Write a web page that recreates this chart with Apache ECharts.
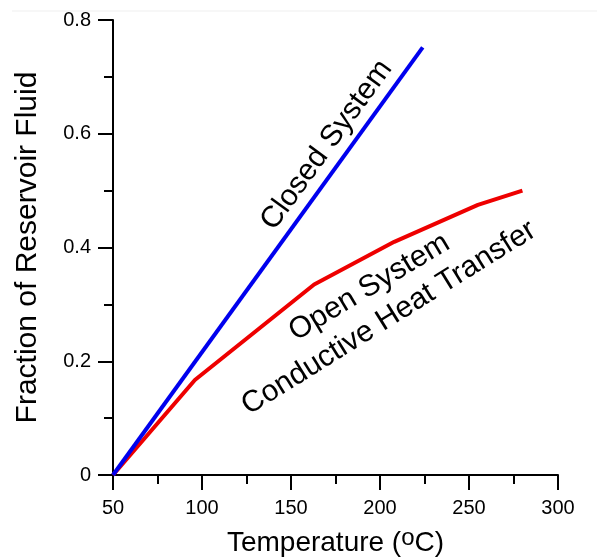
<!DOCTYPE html>
<html>
<head>
<meta charset="utf-8">
<script src="https://cdn.jsdelivr.net/npm/echarts@6/dist/echarts.min.js"></script>
<style>
  html, body { margin: 0; padding: 0; background: #fff; }
  #chart { width: 597px; height: 558px; }
</style>
</head>
<body>
<div id="chart"></div>
<script>
// Temperature (°C) vs. fraction of reservoir fluid
var closedTemp  = [50, 224];
var closedFrac  = [0, 0.752];

var openTemp    = [50, 96, 163, 208, 255, 280];
var openFrac    = [0, 0.167, 0.335, 0.41, 0.475, 0.5];

var xTicks = [50, 100, 150, 200, 250, 300];
var yTicks = [0, 0.2, 0.4, 0.6, 0.8];

// Annotation anchors in data units [temperature, fraction]
var closedLabelAt = [170, 0.58];
var openLabelAt   = [194, 0.33];
var condLabelAt   = [205, 0.276];

var FONT = '"Liberation Sans", Arial, Helvetica, sans-serif';

function pairs(xs, ys) {
  return xs.map(function (x, i) { return [x, ys[i]]; });
}

var chart = echarts.init(document.getElementById('chart'), null, { renderer: 'canvas' });

var axisCommon = {
  axisLine: { show: true, onZero: false, lineStyle: { color: '#000', width: 2 } },
  axisTick: { show: true, inside: false, length: 15, lineStyle: { color: '#000', width: 2 } },
  minorTick: { show: true, splitNumber: 2, length: 9, lineStyle: { color: '#000', width: 2 } },
  splitLine: { show: false },
  minorSplitLine: { show: false },
  axisLabel: { color: '#000', fontSize: 20, fontFamily: FONT }
};

chart.setOption({
  animation: false,
  backgroundColor: '#fff',
  grid: { left: 113, right: 39, top: 20, bottom: 83, containLabel: false, outerBoundsMode: 'none' },
  xAxis: Object.assign({}, axisCommon, {
    type: 'value',
    min: xTicks[0],
    max: xTicks[xTicks.length - 1],
    interval: 50,
    name: 'Temperature ({sup|o}C)',
    nameLocation: 'middle',
    nameGap: 51,
    nameTextStyle: {
      color: '#000', fontSize: 28, fontFamily: FONT, verticalAlign: 'top', lineHeight: 34,
      rich: { sup: { fontSize: 24, fontFamily: FONT, color: '#000', lineHeight: 24, padding: [0, 0, 9, 0] } }
    },
    axisLabel: Object.assign({}, axisCommon.axisLabel, { margin: 23 })
  }),
  yAxis: Object.assign({}, axisCommon, {
    type: 'value',
    min: yTicks[0],
    max: yTicks[yTicks.length - 1],
    interval: 0.2,
    name: 'Fraction of Reservoir Fluid',
    nameLocation: 'middle',
    nameGap: 70,
    nameTextStyle: { color: '#000', fontSize: 30, fontFamily: FONT },
    axisLabel: Object.assign({}, axisCommon.axisLabel, { margin: 22 })
  }),
  series: [
    {
      name: 'Closed System',
      type: 'line',
      data: pairs(closedTemp, closedFrac),
      showSymbol: false,
      lineStyle: { color: '#0000ee', width: 4 },
      z: 3
    },
    {
      name: 'Open System',
      type: 'line',
      data: pairs(openTemp, openFrac),
      showSymbol: false,
      lineStyle: { color: '#ee0000', width: 4 },
      z: 2
    }
  ]
});

function labelAt(pt, text, angleDeg) {
  var p = chart.convertToPixel({ gridIndex: 0 }, pt);
  return {
    type: 'text',
    x: p[0],
    y: p[1],
    rotation: angleDeg * Math.PI / 180,
    style: {
      text: text,
      fill: '#000',
      font: '30px ' + FONT,
      align: 'center',
      verticalAlign: 'middle'
    },
    z: 10
  };
}

chart.setOption({
  graphic: [
    {
      type: 'line',
      shape: { x1: 12, y1: 11, x2: 597, y2: 11 },
      style: { stroke: '#efefef', lineWidth: 1 },
      silent: true
    },
    labelAt(closedLabelAt, 'Closed System', 54),
    labelAt(openLabelAt, 'Open System', 31),
    labelAt(condLabelAt, 'Conductive Heat Transfer', 32)
  ]
});
</script>
</body>
</html>
